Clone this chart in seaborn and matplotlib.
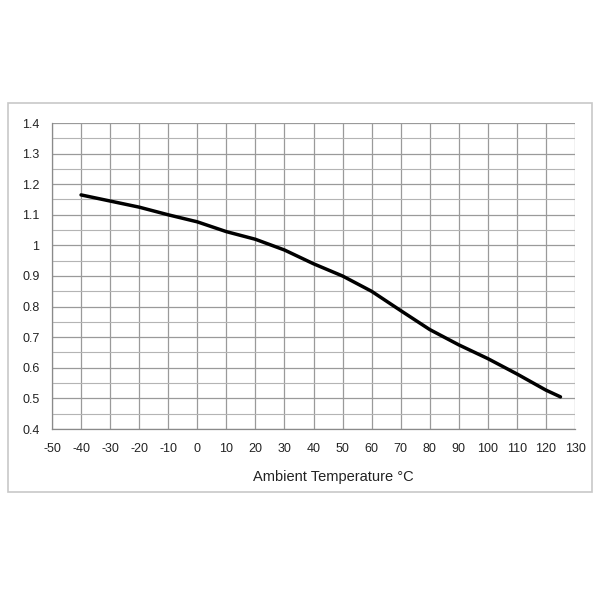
import matplotlib
matplotlib.use("Agg")
import matplotlib.pyplot as plt
from matplotlib.patches import Rectangle
from matplotlib.ticker import MultipleLocator
import seaborn as sns
import pandas as pd

# Values
temperature = [-40, -30, -20, -10, 0, 10, 20, 30, 40, 50, 60, 70, 80, 90, 100, 110, 120, 125]
factor = [1.165, 1.145, 1.125, 1.100, 1.077, 1.045, 1.020, 0.985, 0.940, 0.900,
          0.850, 0.787, 0.725, 0.675, 0.630, 0.580, 0.527, 0.505]
x_ticks = list(range(-50, 131, 10))
y_ticks = [0.4, 0.5, 0.6, 0.7, 0.8, 0.9, 1.0, 1.1, 1.2, 1.3, 1.4]
y_labels = ["0.4", "0.5", "0.6", "0.7", "0.8", "0.9", "1", "1.1", "1.2", "1.3", "1.4"]

df = pd.DataFrame({"temp": temperature, "factor": factor})

sns.set_style("white")
plt.rcParams['font.family'] = ['Liberation Sans', 'DejaVu Sans']

fig = plt.figure(figsize=(6, 6), dpi=100)
ax = fig.add_axes([52 / 600, 1 - 429 / 600, 523 / 600, 306 / 600])

# outer chart border
fig.patches.append(Rectangle((8 / 600, 1 - 492 / 600), 584 / 600, 389 / 600,
                             transform=fig.transFigure, fill=False,
                             edgecolor="#c8c8c8", linewidth=1.2))

sns.lineplot(data=df, x="temp", y="factor", ax=ax, color="black", linewidth=2.5, zorder=3)

ax.set_xlim(-50, 130)
ax.set_ylim(0.4, 1.4)
ax.set_xticks(x_ticks)
ax.set_xticklabels([str(t) for t in x_ticks])
ax.set_yticks(y_ticks)
ax.set_yticklabels(y_labels)
ax.yaxis.set_minor_locator(MultipleLocator(0.05))

ax.grid(True, which="major", color="#9a9a9a", linewidth=0.9)
ax.grid(True, which="minor", axis="y", color="#b4b4b4", linewidth=0.8)
ax.set_axisbelow(True)

for side in ["top", "right"]:
    ax.spines[side].set_visible(False)
for side in ["left", "bottom"]:
    ax.spines[side].set_color("#8a8a8a")
    ax.spines[side].set_linewidth(0.9)

ax.tick_params(axis="both", which="major", direction="out", length=4, width=0.9,
               color="#8a8a8a", labelsize=9, labelcolor="#222222")
ax.tick_params(axis="x", which="major", pad=6)
ax.tick_params(axis="y", which="major", pad=5)
ax.tick_params(axis="both", which="minor", length=0)

ax.set_xlabel("Ambient Temperature °C", fontsize=10.5, color="#222222")
ax.xaxis.set_label_coords(0.538, -0.134)
ax.set_ylabel("")

fig.savefig("out.png", dpi=100)
